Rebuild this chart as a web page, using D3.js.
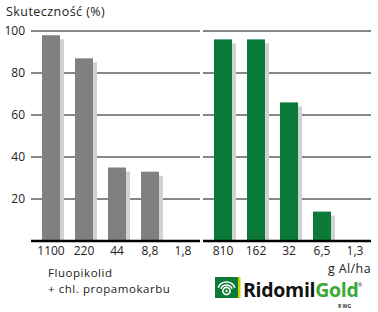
<!DOCTYPE html>
<html><head><meta charset="utf-8">
<script src="https://cdn.jsdelivr.net/npm/d3@7"></script>
<style>body{margin:0;background:#fff}svg{display:block}text{font-family:"Open Sans",sans-serif}</style>
</head><body>
<script>
const yTicks = [20, 40, 60, 80, 100];
const yTickLabels = ["20", "40", "60", "80", "100"];
const leftCategories = ["1100", "220", "44", "8,8", "1,8"];
const leftValues = [98, 87, 35, 33, 0];
const rightCategories = ["810", "162", "32", "6,5", "1,3"];
const rightValues = [96, 96, 66, 14, 0];
const yTitle = "Skuteczność (%)";
const unitLabel = "g Al/ha";
const leftSeriesLines = ["Fluopikolid", "+ chl. propamokarbu"];

const W = 378, H = 312;
const svg = d3.select("body").append("svg").attr("width", W).attr("height", H);
const y = d3.scaleLinear().domain([0, 100]).range([241, 31]);
const pi = 0.4545;
const xL = d3.scaleBand().domain(leftCategories).range([34.5, 199.5]).paddingInner(pi).paddingOuter(pi / 2);
const xR = d3.scaleBand().domain(rightCategories).range([206.5, 371.5]).paddingInner(pi).paddingOuter(pi / 2);

// title
svg.append("text").attr("x", 6).attr("y", 16).attr("font-size", 12.5).attr("letter-spacing", 0.45)
  .attr("fill", "#222").text(yTitle);

// gridlines
const panels = [[31, 200], [203, 371]];
panels.forEach(([a, b]) => {
  svg.append("g").selectAll("line").data(yTicks).join("line")
    .attr("x1", a).attr("x2", b).attr("y1", d => y(d)).attr("y2", d => y(d))
    .attr("stroke", "#111").attr("stroke-width", 1);
});
// y tick labels
svg.append("g").selectAll("text").data(yTicks).join("text")
  .attr("x", 25).attr("y", d => y(d)).attr("dy", "0.35em").attr("text-anchor", "end")
  .attr("font-size", 12).attr("fill", "#222").text((d, i) => yTickLabels[i]);

function drawBars(x, cats, vals, color) {
  const g = svg.append("g");
  const data = cats.map((c, i) => ({ c, v: vals[i] })).filter(d => d.v > 0);
  g.selectAll("rect.sh").data(data).join("rect").attr("class", "sh")
    .attr("x", d => x(d.c) + 4).attr("y", d => y(d.v) + 4)
    .attr("width", x.bandwidth()).attr("height", d => Math.max(0, y(0) - y(d.v) - 4))
    .attr("fill", "#d2d2d2");
  g.selectAll("rect.b").data(data).join("rect").attr("class", "b")
    .attr("x", d => x(d.c)).attr("y", d => y(d.v))
    .attr("width", x.bandwidth()).attr("height", d => y(0) - y(d.v))
    .attr("fill", color);
  g.selectAll("text").data(cats).join("text")
    .attr("x", d => x(d) + x.bandwidth() / 2).attr("y", 255)
    .attr("text-anchor", "middle").attr("font-size", 12).attr("fill", "#222").text(d => d);
}
drawBars(xL, leftCategories, leftValues, "#808080");
drawBars(xR, rightCategories, rightValues, "#0b7a39");

// baselines
panels.forEach(([a, b]) => {
  svg.append("line").attr("x1", a).attr("x2", b).attr("y1", y(0)).attr("y2", y(0))
    .attr("stroke", "#000").attr("stroke-width", 2.5);
});

// unit label
svg.append("text").attr("x", 371).attr("y", 273).attr("text-anchor", "end")
  .attr("font-size", 12.5).attr("letter-spacing", 0.4).attr("fill", "#222").text(unitLabel);

// left series label
leftSeriesLines.forEach((t, i) => {
  svg.append("text").attr("x", 48).attr("y", 276.5 + i * 16).attr("font-size", 11.5)
    .attr("letter-spacing", 0.55).attr("fill", "#222").text(t);
});

// logo
const lg = svg.append("g");
lg.append("rect").attr("x", 215).attr("y", 277).attr("width", 23).attr("height", 21).attr("fill", "#0b7a39");
lg.append("rect").attr("x", 238).attr("y", 277).attr("width", 2.5).attr("height", 21).attr("fill", "#c8d400");
const cx = 226.5, cy = 291;
lg.append("circle").attr("cx", cx).attr("cy", cy).attr("r", 3.6).attr("fill", "none").attr("stroke", "#fff").attr("stroke-width", 1.6);
lg.append("circle").attr("cx", cx).attr("cy", cy).attr("r", 1.2).attr("fill", "#fff");
[6, 9].forEach(r => {
  lg.append("path").attr("d", d3.arc()({ innerRadius: r - 0.8, outerRadius: r + 0.8, startAngle: -Math.PI * 0.38, endAngle: Math.PI * 0.38 }))
    .attr("transform", `translate(${cx},${cy})`).attr("fill", "#fff");
});
const lt = lg.append("text").attr("x", 243).attr("y", 297).attr("font-size", 19.5).attr("font-weight", 700)
  .attr("font-family", "Open Sans, sans-serif").attr("letter-spacing", -0.3);
lt.append("tspan").attr("fill", "#111").text("Ridomil");
lt.append("tspan").attr("fill", "#3aa935").text("Gold");
lg.append("text").attr("x", 358).attr("y", 287).attr("font-size", 5).attr("fill", "#333").text("®");
lg.append("text").attr("x", 338).attr("y", 308).attr("font-size", 5).attr("font-weight", 700).attr("fill", "#333").text("R WG");
</script>
</body></html>
